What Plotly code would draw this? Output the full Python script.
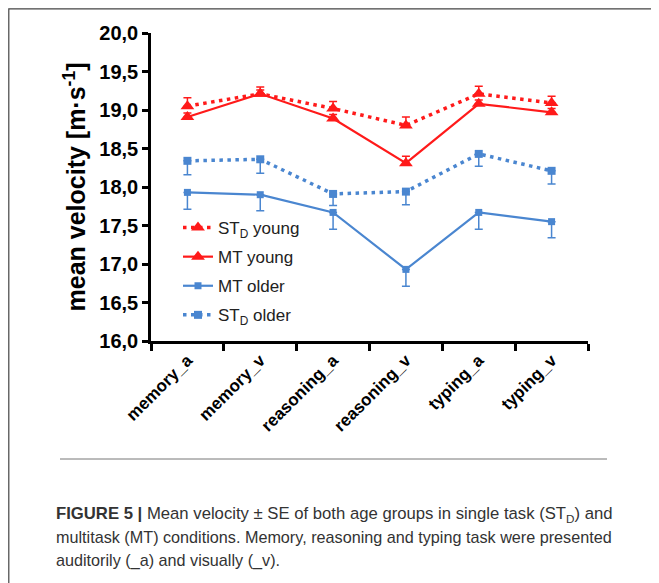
import plotly.graph_objects as go

categories = ["memory_a", "memory_v", "reasoning_a", "reasoning_v", "typing_a", "typing_v"]

std_young = [19.05, 19.21, 19.02, 18.80, 19.21, 19.09]
std_young_se = [0.11, 0.09, 0.09, 0.11, 0.10, 0.09]
mt_young = [18.91, 19.21, 18.89, 18.31, 19.08, 18.97]
mt_young_se = [0.05, 0.05, 0.05, 0.09, 0.05, 0.05]
mt_older = [17.93, 17.90, 17.67, 16.93, 17.67, 17.55]
mt_older_se = [0.22, 0.21, 0.22, 0.22, 0.22, 0.21]
std_older = [18.34, 18.36, 17.91, 17.94, 18.43, 18.21]
std_older_se = [0.18, 0.18, 0.15, 0.17, 0.16, 0.17]

RED = "#ff1a1a"
BLUE = "#4a86d0"
zeros = [0] * len(categories)

fig = go.Figure()

fig.add_trace(go.Scatter(
    x=categories, y=std_young, name="ST<sub>D</sub> young", legendgroup="a",
    mode="lines+markers",
    line=dict(color=RED, width=3.5, dash="3.5px,4.5px"),
    marker=dict(symbol="triangle-up", size=12, color=RED),
    error_y=dict(type="data", symmetric=False, array=std_young_se, arrayminus=zeros,
                 color=RED, thickness=1.5, width=4),
))
fig.add_trace(go.Scatter(
    x=categories, y=mt_young, name="MT young", legendgroup="b",
    mode="lines+markers",
    line=dict(color=RED, width=2.2),
    marker=dict(symbol="triangle-up", size=12, color=RED),
    error_y=dict(type="data", symmetric=False, array=mt_young_se, arrayminus=zeros,
                 color=RED, thickness=1.5, width=4),
))
fig.add_trace(go.Scatter(
    x=categories, y=mt_older, name="MT older", legendgroup="c",
    mode="lines+markers",
    line=dict(color=BLUE, width=2.2),
    marker=dict(symbol="square", size=7, color=BLUE),
    error_y=dict(type="data", symmetric=False, array=zeros, arrayminus=mt_older_se,
                 color=BLUE, thickness=1.5, width=4),
))
fig.add_trace(go.Scatter(
    x=categories, y=std_older, name="ST<sub>D</sub> older", legendgroup="d",
    mode="lines+markers",
    line=dict(color=BLUE, width=3.5, dash="3.5px,4.5px"),
    marker=dict(symbol="square", size=8, color=BLUE),
    error_y=dict(type="data", symmetric=False, array=zeros, arrayminus=std_older_se,
                 color=BLUE, thickness=1.5, width=4),
))

# The page adds an 8px body margin, so work in reference coords and shift by OFF.
OFF = 8
W, H = 659 - OFF, 583 - OFF
L, T = 151 - OFF, 33 - OFF
R = 71
B = 242
PW, PH = W - L - R, H - T - B

def px(x):
    return (x - OFF - L) / PW

def py(y):
    return (H - B - (y - OFF)) / PH

fig.update_layout(
    width=W, height=H,
    margin=dict(l=L, r=R, t=T, b=B, autoexpand=False),
    paper_bgcolor="white", plot_bgcolor="white",
    separators=",.",
    font=dict(family="Liberation Sans, Arial, sans-serif", color="black"),
    showlegend=True,
    legend=dict(
        x=px(178), y=py(210), xanchor="left", yanchor="top",
        font=dict(size=17, color="#222"),
        bgcolor="rgba(0,0,0,0)",
        traceorder="grouped", tracegroupgap=4,
        itemwidth=30,
    ),
    xaxis=dict(
        type="category", range=[-0.5, 5.5],
        showline=True, linecolor="black", linewidth=2.5,
        ticks="outside", tickson="boundaries", ticklen=7, tickwidth=2.5, tickcolor="black",
        tickangle=-45, showgrid=False, zeroline=False,
        tickfont=dict(size=17, family="Liberation Sans, Arial, sans-serif", color="black", weight="bold"),
    ),
    yaxis=dict(
        range=[16, 20], dtick=0.5, tick0=16, tickformat=".1f",
        showline=True, linecolor="black", linewidth=2.5,
        ticks="outside", ticklen=6, tickwidth=2.5, tickcolor="black",
        showgrid=False, zeroline=False,
        tickfont=dict(size=20, color="black", weight="bold"),
        title=dict(text="mean velocity [m·s<sup>-1</sup>]", standoff=7,
                   font=dict(size=25, color="black", weight="bold")),
    ),
)

shapes = [
    dict(type="rect", xref="paper", yref="paper",
         x0=px(8.8), x1=px(700), y0=py(640), y1=py(8.8),
         line=dict(color="#444", width=1.2), fillcolor="rgba(0,0,0,0)", layer="below"),
    dict(type="line", xref="paper", yref="paper",
         x0=px(60), x1=px(607), y0=py(459), y1=py(459),
         line=dict(color="#777", width=1)),
]
fig.update_layout(shapes=shapes)

caption = [
    "<b>FIGURE 5 |</b> Mean velocity ± SE of both age groups in single task (ST<sub>D</sub>) and",
    "multitask (MT) conditions. Memory, reasoning and typing task were presented",
    "auditorily (_a) and visually (_v).",
]
cap_sizes = [16.7, 16.2, 16.2]
for i, line in enumerate(caption):
    fig.add_annotation(
        text=line, xref="paper", yref="paper",
        x=px(54), y=py(514 + 23 * i), xanchor="left", yanchor="middle",
        showarrow=False, align="left",
        font=dict(size=cap_sizes[i], color="#333", family="Liberation Sans, Arial, sans-serif"),
    )

fig.write_html("out.html")
